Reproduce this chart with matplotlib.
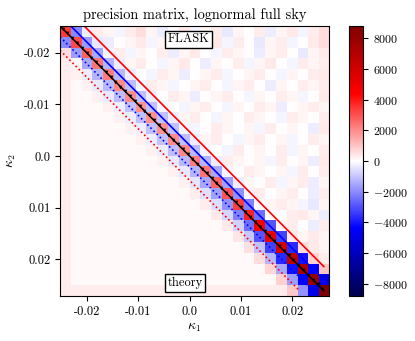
import numpy as np
import matplotlib
matplotlib.use('Agg')
import matplotlib.pyplot as plt
from matplotlib.ticker import FuncFormatter

plt.rcParams['font.family'] = 'serif'
plt.rcParams['font.serif'] = ['cmr10']
plt.rcParams['mathtext.fontset'] = 'cm'
plt.rcParams['axes.unicode_minus'] = False
plt.rcParams['axes.formatter.use_mathtext'] = True

# ---------------- data ----------------
kappa_lo, kappa_hi = -0.0252, 0.0271
n_bins = 25

# diagonal of precision matrix
diag = [3400, 3100, 2700, 2400, 2200, 2050, 1950, 1900, 1900, 1900, 1950, 2050,
        2200, 2400, 2650, 2950, 3350, 3800, 4400, 5000, 5700, 6400, 7100, 7900, 8800]
# first off-diagonal (both triangles)
off1 = [-2000, -1700, -1450, -1300, -1200, -1150, -1100, -1100, -1100, -1100, -1150, -1200,
        -1300, -1450, -1650, -1900, -2200, -2500, -2900, -3300, -3700, -4100, -4500, -4900]
# theory (lower triangle) second and third off-diagonals
off2_theory = [600, 200, -300, -350, -350, -300, -300, -300, -300, -300, -350, -400,
               -450, -500, -600, -700, -800, -950, -1100, -1300, -1500, -1700, -1900]
off3_theory = [300, 250, 250, 250, 250, 250, 250, 250, 250, 250, 250, 250,
               300, 300, 350, 400, 450, 500, 600, 700, 800, 900]
theory_background = 90
theory_first_col = 300
theory_last_row = 300
# FLASK (upper triangle) second off-diagonal
off2_flask = [-300, -400, -200, -300, -300, -200, -300, -200, -300, -200, -300, -200,
              -300, -200, -300, -200, -100, 0, 200, 400, 600, 800, 1000]
# FLASK noise beyond second off-diagonal, in units of 100 (row i: columns i+3..24)
flask_noise = [
    [3, 2, -2, 3, 6, 2, -3, 0, 4, -2, 2, 3, -4, 2, 0, 3, -3, 2, 4, -2, 3, 6],
    [-3, 0, 2, 4, -2, 2, 3, -3, 0, 2, 4, -2, 3, 0, -4, 2, 3, -2, 0, 4, 6],
    [3, -2, 2, 0, 3, -3, 2, 4, 0, -2, 3, 2, 0, -3, 2, 3, 0, -4, 2, 4],
    [2, 3, 0, -2, 2, 4, 0, -3, 2, 0, 3, -2, 2, 4, 0, -2, 3, 2, 3],
    [0, -2, 3, 2, -3, 0, 2, 3, -2, 0, 2, 3, 0, -2, 2, 0, 3, 4],
    [3, 2, -2, 0, 2, 3, 0, -2, 2, 3, 0, -3, 2, 0, 3, 2, 3],
    [0, 3, 2, -3, 0, 2, 3, 0, -2, 2, 0, 3, 2, -2, 0, 4],
    [0, -2, 2, 3, 0, -2, 2, 0, 3, 2, -3, 0, 2, 3, 2],
    [2, 3, 0, -2, 2, 0, 3, 2, 0, -2, 3, 2, 0, 3],
    [-2, 0, 3, 2, 0, 2, -2, 3, 0, 2, 0, -3, 4],
    [2, 3, 0, -2, 2, 3, 0, 2, -2, 0, 3, 2],
    [0, -2, 3, 0, 2, 0, 3, -2, 2, 0, 3],
    [3, 2, 0, 2, -2, 3, 0, 2, -3, 4],
    [0, 3, 2, 0, 2, -2, 3, 0, 3],
    [2, 0, 3, -2, 2, 3, -3, 2],
    [3, 0, 2, 3, 0, -3, 3],
    [2, 3, 2, -2, -4, 2],
    [0, 3, 4, 2, -3],
    [3, 0, -3, 3],
    [2, 4, 2],
    [4, 2],
    [3],
]
line_offsets = [-0.0047, -0.0021, 0.0, 0.0021, 0.0047]
line_kappa_end = 0.0261
tick_values = [-0.02, -0.01, 0.0, 0.01, 0.02]
tick_labels = ['-0.02', '-0.01', '0.0', '0.01', '0.02']
cbar_ticks = [-8000, -6000, -4000, -2000, 0, 2000, 4000, 6000, 8000]
vmax = 8800

# ---------------- build matrix ----------------
M = np.full((n_bins, n_bins), float(theory_background))
M[:, 0] = theory_first_col
M[n_bins - 1, :] = theory_last_row
for i in range(n_bins):
    M[i, i] = diag[i]
for i in range(n_bins - 1):
    M[i, i + 1] = off1[i]
    M[i + 1, i] = off1[i]
for i in range(n_bins - 2):
    M[i + 2, i] = off2_theory[i]
    M[i, i + 2] = off2_flask[i]
for i in range(n_bins - 3):
    M[i + 3, i] = off3_theory[i]
for i, row in enumerate(flask_noise):
    for k, v in enumerate(row):
        M[i, i + 3 + k] = v * 100.0

# ---------------- figure ----------------
fig = plt.figure(figsize=(4.15, 3.41), dpi=100)
ax = fig.add_axes([60 / 415, 1 - 296 / 341, 269 / 415, 270 / 341])
im = ax.imshow(M, cmap='seismic', vmin=-vmax, vmax=vmax, interpolation='nearest',
               extent=[kappa_lo, kappa_hi, kappa_hi, kappa_lo], aspect='auto')

styles = [('r', '-'), ('b', '-'), ('k', '-'), ('b', ':'), ('r', ':')]
for off, (c, ls) in zip(line_offsets, styles):
    k1 = np.linspace(kappa_lo, line_kappa_end, 400)
    k2 = k1 + off
    m = (k2 >= kappa_lo) & (k2 <= line_kappa_end)
    if off == 0.0:
        ax.plot(k1[m], k2[m], color=c, ls=ls, lw=1.1)
        km = np.linspace(kappa_lo + 0.0005, line_kappa_end - 0.0003, 55)
        ax.plot(km, km, ls='none', marker='v', ms=2.6, color='k', mew=0)
    else:
        ax.plot(k1[m], k2[m], color=c, ls=ls, lw=1.2)

ax.set_xlim(kappa_lo, kappa_hi)
ax.set_ylim(kappa_hi, kappa_lo)
ax.set_xticks(tick_values)
ax.set_xticklabels(tick_labels)
ax.set_yticks(tick_values)
ax.set_yticklabels(tick_labels)
ax.tick_params(labelsize=9, direction='out', length=3.5)
ax.set_xlabel(r'$\kappa_1$', fontsize=10, labelpad=3)
ax.set_ylabel(r'$\kappa_2$', fontsize=10, labelpad=4)
ax.set_title('precision matrix, lognormal full sky', fontsize=10.4, pad=5)

bbox = dict(boxstyle='square,pad=0.2', facecolor='white', edgecolor='black', lw=1)
ax.text(0.477, 0.951, 'FLASK', transform=ax.transAxes, ha='center', va='center',
        fontsize=9, bbox=bbox)
ax.text(0.465, 0.048, 'theory', transform=ax.transAxes, ha='center', va='center',
        fontsize=9, bbox=bbox)

cax = fig.add_axes([349 / 415, 1 - 296 / 341, 14 / 415, 270 / 341])
cb = fig.colorbar(im, cax=cax)
cb.set_ticks(cbar_ticks)
cb.ax.yaxis.set_major_formatter(FuncFormatter(lambda v, p: r'$%d$' % int(round(v))))
cb.ax.tick_params(labelsize=8.6, direction='out', length=3.5)

fig.savefig('out.png', dpi=100)
